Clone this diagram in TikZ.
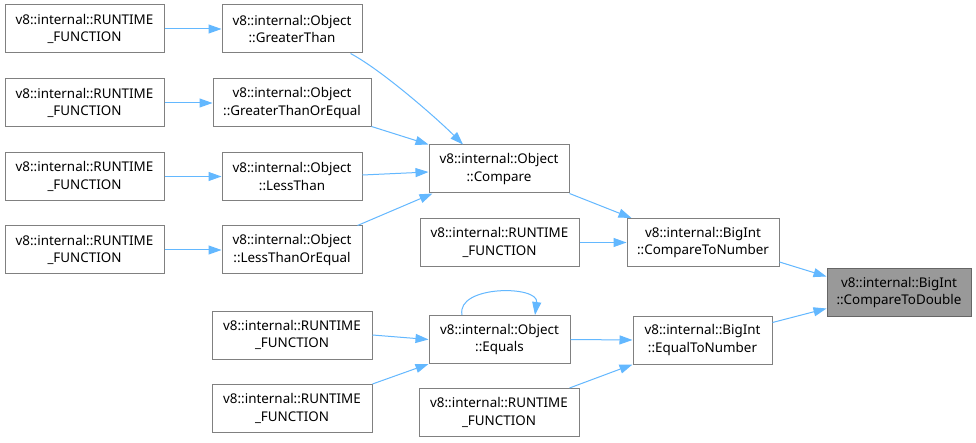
\documentclass[tikz,border=0pt]{standalone}
\usepackage{fontspec}
\setmainfont{Noto Sans}
\usetikzlibrary{arrows.meta,calc}
\definecolor{edgeblue}{HTML}{63B8FF}
\definecolor{boxgray}{HTML}{808080}
\definecolor{hlfill}{HTML}{999999}
\definecolor{hlborder}{HTML}{666666}
\begin{document}
\begin{tikzpicture}[x=1pt,y=-1pt,
  box/.style={draw=boxgray,line width=1pt,fill=white,rectangle,inner sep=0pt,
    minimum height=48pt,align=center,font=\fontsize{13.4}{17.5}\selectfont},
  hlbox/.style={box,draw=hlborder,fill=hlfill},
  edge/.style={draw=edgeblue,line width=1pt,-{Triangle[length=13pt,width=9pt]}}]
\useasboundingbox (0,0) rectangle (976,443);
\fill[white] (0,0) rectangle (976,443);
% column 1
\node[box,minimum width=159pt] (R1) at (84.5,29) {v8::internal::RUNTIME\\\_FUNCTION};
\node[box,minimum width=159pt] (R2) at (84.5,103) {v8::internal::RUNTIME\\\_FUNCTION};
\node[box,minimum width=159pt] (R3) at (84.5,176.5) {v8::internal::RUNTIME\\\_FUNCTION};
\node[box,minimum width=159pt] (R4) at (84.5,250) {v8::internal::RUNTIME\\\_FUNCTION};
% column 2
\node[box,minimum width=140pt] (GT) at (292,29) {v8::internal::Object\\::GreaterThan};
\node[box,minimum width=158pt] (GTOE) at (292,103) {v8::internal::Object\\::GreaterThanOrEqual};
\node[box,minimum width=140pt] (LT) at (292,176.5) {v8::internal::Object\\::LessThan};
\node[box,minimum width=140pt] (LTOE) at (292,250) {v8::internal::Object\\::LessThanOrEqual};
\node[box,minimum width=160pt] (Ra) at (292,335) {v8::internal::RUNTIME\\\_FUNCTION};
\node[box,minimum width=160pt] (Rb) at (292,408.5) {v8::internal::RUNTIME\\\_FUNCTION};
% column 3
\node[box,minimum width=140pt] (CMP) at (499,169) {v8::internal::Object\\::Compare};
\node[box,minimum width=159pt] (RM) at (499.5,242.5) {v8::internal::RUNTIME\\\_FUNCTION};
\node[box,minimum width=141pt] (EQ) at (499.5,339.5) {v8::internal::Object\\::Equals};
\node[box,minimum width=160pt] (Rc) at (499,412.5) {v8::internal::RUNTIME\\\_FUNCTION};
% column 4
\node[box,minimum width=152pt] (CTN) at (703,242.5) {v8::internal::BigInt\\::CompareToNumber};
\node[box,minimum width=139pt] (ETN) at (702.5,340) {v8::internal::BigInt\\::EqualToNumber};
% column 5
\node[hlbox,minimum width=144pt] (CTD) at (899,292.5) {v8::internal::BigInt\\::CompareToDouble};
% edges
\draw[edge] (R1.east) -- (GT.west);
\draw[edge] (R2.east) -- (GTOE.west);
\draw[edge] (R3.east) -- (LT.west);
\draw[edge] (R4.east) -- (LTOE.west);
\draw[edge] ($(GT.south east)+(-12,0)$) .. controls +(32,17) and +(-25,-25) .. ($(CMP.north)+(-36,0)$);
\draw[edge] ($(GTOE.south east)+(0,-1)$) -- (CMP.north west);
\draw[edge] ($(LT.east)+(0,-1.5)$) -- ($(CMP.west)+(0,3)$);
\draw[edge] ($(LTOE.north east)+(-5,0)$) -- ($(CMP.south west)+(4,0)$);
\draw[edge] (CMP.south east) -- ($(CTN.north west)+(5,0)$);
\draw[edge] (RM.east) -- (CTN.west);
\draw[edge] ($(CTN.south east)+(0,-5)$) -- ($(CTD.west)+(0,-16)$);
\draw[edge] ($(ETN.north east)+(0,7)$) -- ($(CTD.west)+(0,16)$);
\draw[edge] (EQ.east) -- (ETN.west);
\draw[edge] ($(Rc.north east)+(-10,0)$) -- (ETN.south west);
\draw[edge] (Ra.east) -- (EQ.west);
\draw[edge] (Rb.north east) -- (EQ.south west);
\draw[edge] ($(EQ.north)+(-37.5,0)$) .. controls +(-6,-30) and +(4,-30) .. ($(EQ.north)+(35.5,0)$);
\end{tikzpicture}
\end{document}
